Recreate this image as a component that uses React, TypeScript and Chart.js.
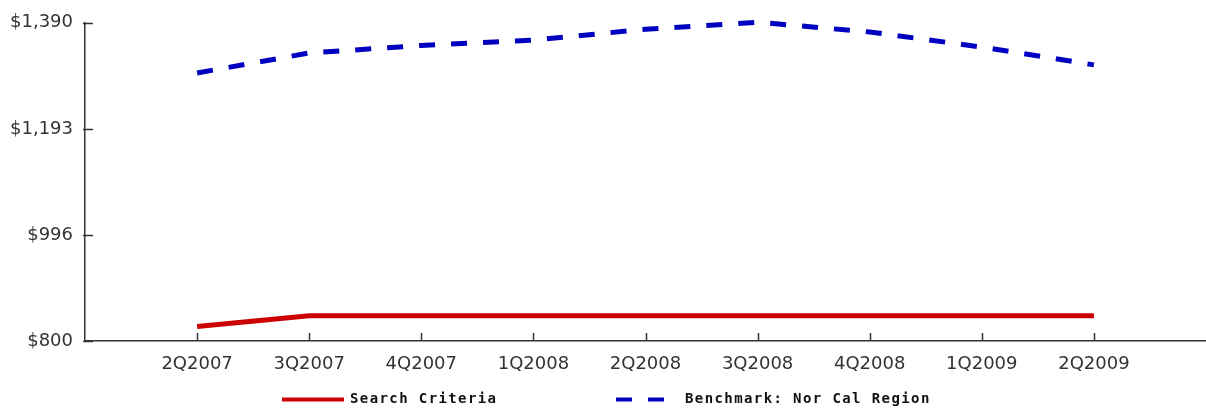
import React, { useEffect, useRef } from "react";
import { Chart, registerables } from "chart.js";

Chart.register(...registerables);

const categories = ["2Q2007", "3Q2007", "4Q2007", "1Q2008", "2Q2008", "3Q2008", "4Q2008", "1Q2009", "2Q2009"];
const searchCriteria = [827, 847, 847, 847, 847, 847, 847, 847, 847];
const benchmark = [1297, 1334, 1348, 1358, 1378, 1391, 1373, 1345, 1312];
const yTickValues = [800, 996.67, 1193.33, 1390];
const yTickLabels = ["$800", "$996", "$1,193", "$1,390"];
const seriesNames = ["Search Criteria", "Benchmark: Nor Cal Region"];

const AXIS_COLOR = "#333333";

const inwardTicks = {
  id: "inwardTicks",
  afterDatasetsDraw(chart: any) {
    const { ctx, chartArea, scales } = chart;
    ctx.save();
    ctx.strokeStyle = AXIS_COLOR;
    ctx.lineWidth = 1.5;
    const xs = scales.x;
    xs.ticks.forEach((t: any) => {
      const px = Math.round(xs.getPixelForValue(t.value)) + 0.5;
      ctx.beginPath();
      ctx.moveTo(px, chartArea.bottom);
      ctx.lineTo(px, chartArea.bottom - 8);
      ctx.stroke();
    });
    const ys = scales.y;
    ys.ticks.forEach((t: any) => {
      const py = Math.round(ys.getPixelForValue(t.value)) + 0.5;
      ctx.beginPath();
      ctx.moveTo(chartArea.left - 2, py);
      ctx.lineTo(chartArea.left + 8, py);
      ctx.stroke();
    });
    ctx.restore();
  },
};

const customLegend = {
  id: "customLegend",
  afterDraw(chart: any) {
    const { ctx } = chart;
    const ds = chart.data.datasets;
    const y = 399.5;
    const items = [
      { x0: 282, x1: 344, tx: 350 },
      { x0: 616, x1: 664, tx: 685 },
    ];
    ctx.save();
    ctx.font = "bold 14px 'DejaVu Sans Mono'";
    (ctx as any).letterSpacing = "1.4px";
    ctx.textBaseline = "middle";
    ctx.textAlign = "left";
    ds.forEach((d: any, i: number) => {
      const it = items[i];
      ctx.strokeStyle = d.borderColor;
      ctx.lineWidth = 4;
      ctx.setLineDash(d.borderDash || []);
      ctx.beginPath();
      ctx.moveTo(it.x0, y);
      ctx.lineTo(it.x1, y);
      ctx.stroke();
      ctx.setLineDash([]);
      ctx.fillStyle = "#111111";
      ctx.fillText(d.label, it.tx, y);
    });
    ctx.restore();
  },
};

export default function App() {
  const ref = useRef<HTMLCanvasElement | null>(null);
  useEffect(() => {
    document.body.style.margin = "0";
    const c = ref.current;
    if (!c) return;
    const chart = new Chart(c, {
      type: "line",
      data: {
        datasets: [
          {
            label: seriesNames[0],
            data: searchCriteria.map((v, i) => ({ x: i, y: v })),
            borderColor: "#cc0000",
            borderWidth: 5,
            pointRadius: 0,
            tension: 0,
            fill: false,
          },
          {
            label: seriesNames[1],
            data: benchmark.map((v, i) => ({ x: i, y: v })),
            borderColor: "#0000c0",
            borderWidth: 5,
            borderDash: [16, 16],
            pointRadius: 0,
            tension: 0,
            fill: false,
            clip: false as any,
          },
        ],
      },
      options: {
        animation: false,
        responsive: false,
        maintainAspectRatio: false,
        layout: { padding: { top: 21, bottom: 40, left: 0, right: 0 } },
        plugins: { legend: { display: false }, tooltip: { enabled: false } },
        scales: {
          x: {
            type: "linear",
            min: -1,
            max: 9,
            afterBuildTicks: (s: any) => {
              s.ticks = categories.map((_, i) => ({ value: i }));
            },
            afterFit: (s: any) => {
              s.height = 30;
            },
            ticks: {
              autoSkip: false,
              maxRotation: 0,
              padding: 13,
              color: AXIS_COLOR,
              font: { family: "'DejaVu Sans'", size: 18 },
              callback: (v: any) => categories[v] ?? "",
            },
            grid: { display: true, drawOnChartArea: false, drawTicks: false },
            border: { display: true, color: AXIS_COLOR, width: 1.5 },
          },
          y: {
            type: "linear",
            min: 800,
            max: 1390,
            afterBuildTicks: (s: any) => {
              s.ticks = yTickValues.map((v) => ({ value: v }));
            },
            afterFit: (s: any) => {
              s.width = 85;
            },
            ticks: {
              padding: 12,
              color: AXIS_COLOR,
              font: { family: "'DejaVu Sans'", size: 18 },
              callback: (v: any) => {
                const idx = yTickValues.indexOf(v);
                return idx >= 0 ? yTickLabels[idx] : "";
              },
            },
            grid: { display: true, drawOnChartArea: false, drawTicks: false },
            border: { display: true, color: AXIS_COLOR, width: 1.5 },
          },
        },
      },
      plugins: [inwardTicks, customLegend],
    });
    return () => chart.destroy();
  }, []);
  return (
    <div style={{ width: 1206, height: 411 }}>
      <canvas ref={ref} width={1206} height={411} style={{ width: 1206, height: 411, display: "block" }} />
    </div>
  );
}
